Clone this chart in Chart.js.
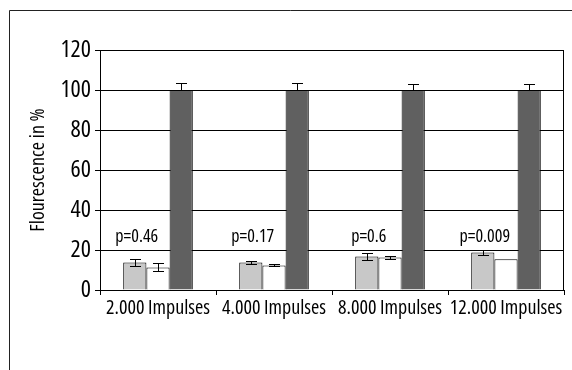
<!DOCTYPE html>
<html>
<head>
<meta charset="utf-8">
<script src="https://cdn.jsdelivr.net/npm/chart.js@4"></script>
<style>
  html, body { margin: 0; padding: 0; background: #fff; }
  #wrap { width: 572px; height: 370px; }
</style>
</head>
<body>
<div id="wrap"><canvas id="chart"></canvas></div>
<script>
// kategoriler ve degerler
const categories = ['2.000 Impulses', '4.000 Impulses', '8.000 Impulses', '12.000 Impulses'];
const greyValues = [13.8, 13.8, 16.8, 18.8];
const whiteValues = [11.3, 12.3, 16.2, 15.4];
const darkValues = [100, 100, 100, 100];
const greyErr = [1.7, 0.9, 1.9, 1.1];
const whiteErr = [2.0, 0.5, 0.6, 0];
const darkErr = [3.3, 3.3, 2.8, 2.8];
const pLabels = ['p=0.46', 'p=0.17', 'p=0.6', 'p=0.009'];
const yTicks = [0, 20, 40, 60, 80, 100, 120];

// dar yazi tipi var mi? (Open Sans wdth ekseni)
const probe = document.createElement('canvas').getContext('2d');
probe.font = '20px "Open Sans"';
const wNormal = probe.measureText('2.000 Impulses').width;
probe.font = 'condensed 20px "Open Sans"';
const wCond = probe.measureText('2.000 Impulses').width;
const hasCond = wCond < wNormal * 0.92;

const FAMILY = hasCond ? '"Open Sans"' : 'Roboto, sans-serif';
const WEIGHT = hasCond ? 'condensed 500' : 'normal';
const SIZE_Y = hasCond ? 24 : 18;
const SIZE_X = hasCond ? 20 : 16;
const SIZE_TITLE = hasCond ? 20 : 17;
const SIZE_P = hasCond ? 18 : 15;

// dis cerceve
const framePlugin = {
  id: 'frame',
  beforeDraw: (chart) => {
    const ctx = chart.ctx;
    ctx.save();
    ctx.strokeStyle = '#222';
    ctx.lineWidth = 1;
    ctx.beginPath();
    ctx.moveTo(9.5, 370);
    ctx.lineTo(9.5, 10.5);
    ctx.lineTo(572, 10.5);
    ctx.stroke();
    ctx.restore();
  },
  afterDraw: (chart) => {
    // grafik alaninin sag kenari
    const a = chart.chartArea;
    const ctx = chart.ctx;
    ctx.save();
    ctx.strokeStyle = '#000';
    ctx.lineWidth = 1;
    ctx.beginPath();
    ctx.moveTo(Math.round(a.right) - 0.5, a.top);
    ctx.lineTo(Math.round(a.right) - 0.5, a.bottom);
    ctx.stroke();
    ctx.restore();
  }
};

// hata cubuklari ve p degerleri
const errorPlugin = {
  id: 'errors',
  afterDatasetsDraw: (chart) => {
    const ctx = chart.ctx;
    const yScale = chart.scales.y;
    ctx.save();
    ctx.strokeStyle = '#000';
    ctx.lineWidth = 1;
    chart.data.datasets.forEach((ds, i) => {
      const meta = chart.getDatasetMeta(i);
      meta.data.forEach((bar, j) => {
        const err = ds.errors[j];
        if (!err) return;
        const v = ds.data[j];
        const x = Math.round(bar.x) + 0.5;
        const yTop = Math.round(yScale.getPixelForValue(v + err)) + 0.5;
        const yMid = yScale.getPixelForValue(v);
        const yBot = Math.round(yScale.getPixelForValue(v - err)) + 0.5;
        ctx.beginPath();
        ctx.moveTo(x, yTop);
        ctx.lineTo(x, ds.upOnly ? yMid : yBot);
        ctx.moveTo(x - 5.5, yTop);
        ctx.lineTo(x + 5.5, yTop);
        if (!ds.upOnly) {
          ctx.moveTo(x - 5.5, yBot);
          ctx.lineTo(x + 5.5, yBot);
        }
        ctx.stroke();
      });
    });

    const m0 = chart.getDatasetMeta(0);
    ctx.fillStyle = '#000';
    ctx.font = WEIGHT + ' ' + SIZE_P + 'px ' + FAMILY;
    ctx.textAlign = 'center';
    ctx.textBaseline = 'middle';
    pLabels.forEach((txt, j) => {
      ctx.fillText(txt, m0.data[j].x + 2, yScale.getPixelForValue(26.5));
    });
    ctx.restore();
  }
};

new Chart(document.getElementById('chart'), {
  type: 'bar',
  data: {
    labels: categories,
    datasets: [
      { data: greyValues, errors: greyErr, backgroundColor: '#c8c8c8', borderColor: '#000', borderWidth: 1 },
      { data: whiteValues, errors: whiteErr, backgroundColor: '#ffffff', borderColor: '#000', borderWidth: 1 },
      { data: darkValues, errors: darkErr, upOnly: true, backgroundColor: '#606060', borderColor: '#000', borderWidth: 1 }
    ]
  },
  options: {
    responsive: true,
    maintainAspectRatio: false,
    animation: false,
    devicePixelRatio: 1,
    categoryPercentage: 0.6,
    barPercentage: 1.0,
    layout: { padding: { left: 0, top: 50, right: 8, bottom: 0 } },
    plugins: {
      legend: { display: false },
      tooltip: { enabled: false }
    },
    scales: {
      x: {
        afterFit: (s) => { s.height = 80; },
        grid: { drawOnChartArea: false, drawTicks: true, tickLength: 5, color: '#000', offset: true },
        border: { color: '#000', width: 1 },
        ticks: { color: '#000', font: { family: FAMILY, weight: WEIGHT, size: SIZE_X }, padding: 1, maxRotation: 0, autoSkip: false }
      },
      y: {
        min: 0,
        max: 120,
        afterFit: (s) => { s.width = 100; },
        afterBuildTicks: (s) => { s.ticks = yTicks.map(v => ({ value: v })); },
        grid: { color: '#000', lineWidth: 1, tickLength: 5 },
        border: { color: '#000', width: 1 },
        ticks: { color: '#000', font: { family: FAMILY, weight: WEIGHT, size: SIZE_Y }, padding: 4 },
        title: {
          display: true,
          text: 'Flourescence in %',
          color: '#000',
          font: { family: FAMILY, weight: WEIGHT, size: SIZE_TITLE },
          padding: { top: 26, bottom: 0 }
        }
      }
    }
  },
  plugins: [framePlugin, errorPlugin]
});
</script>
</body>
</html>
